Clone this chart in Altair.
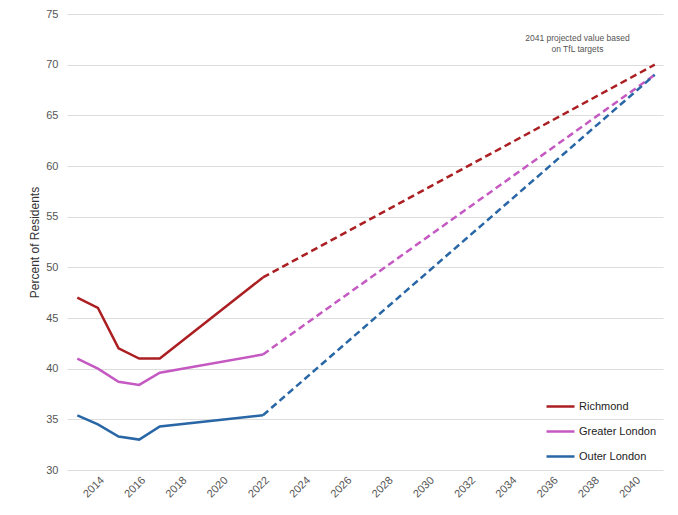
import altair as alt
import pandas as pd

series_names = ["Richmond", "Greater London", "Outer London"]
colors = ["#ab1f23", "#c559c2", "#2866a6"]

years_hist = [2013, 2014, 2015, 2016, 2017, 2022]
richmond_hist = [47, 46, 42, 41, 41, 49]
greater_hist = [41, 40, 38.7, 38.4, 39.6, 41.4]
outer_hist = [35.4, 34.5, 33.3, 33.0, 34.3, 35.4]

years_proj = [2022, 2041]
richmond_proj = [49, 70]
greater_proj = [41.4, 69]
outer_proj = [35.4, 69]

x_ticks = list(range(2014, 2041, 2))
y_ticks = [30, 35, 40, 45, 50, 55, 60, 65, 70, 75]

note_lines = ["2041 projected value based", "on TfL targets"]
note_year = 2037.25
note_value = 72.65

rows = []
for name, h, p in zip(series_names,
                      [richmond_hist, greater_hist, outer_hist],
                      [richmond_proj, greater_proj, outer_proj]):
    for yr, v in zip(years_hist, h):
        rows.append({"year": yr, "value": v, "series": name, "part": "hist"})
    for yr, v in zip(years_proj, p):
        rows.append({"year": yr, "value": v, "series": name, "part": "proj"})
df = pd.DataFrame(rows)

font = "Liberation Sans"

x_enc = alt.X("year:Q",
              scale=alt.Scale(domain=[2012.5, 2041.4], nice=False, zero=False),
              axis=alt.Axis(values=x_ticks, format="d", labelAngle=-45, labelAlign="right",
                            labelBaseline="top", labelPadding=4, labelFontSize=11,
                            labelColor="#555555", labelFont=font, grid=False, ticks=False,
                            domain=False, title=None))
y_enc = alt.Y("value:Q",
              scale=alt.Scale(domain=[30, 75], nice=False, zero=False),
              axis=alt.Axis(values=y_ticks, labelFontSize=11, labelColor="#555555",
                            labelFont=font, labelPadding=9, grid=True, gridColor="#dddddd",
                            gridWidth=1, ticks=False, domain=False,
                            title="Percent of Residents", titleFont=font, titleFontSize=12,
                            titleFontWeight="normal", titleColor="#333333", titlePadding=4))
color_enc = alt.Color("series:N",
                      scale=alt.Scale(domain=series_names, range=colors),
                      legend=alt.Legend(title=None, orient="none", legendX=478, legendY=377,
                                        symbolType="stroke", symbolSize=784,
                                        symbolStrokeWidth=2.5, labelFontSize=11,
                                        labelFont=font, labelColor="#222222",
                                        labelOffset=3, rowPadding=4))

hist = alt.Chart(df).transform_filter(alt.datum.part == "hist").mark_line(
    strokeWidth=2.5, strokeJoin="miter"
).encode(x=x_enc, y=y_enc, color=color_enc, detail="series:N")

proj = alt.Chart(df).transform_filter(alt.datum.part == "proj").mark_line(
    strokeWidth=2.5, strokeDash=[7, 4]
).encode(x=x_enc, y=y_enc, color=color_enc, detail="series:N")

note_df = pd.DataFrame({"year": [note_year], "value": [note_value],
                        "text": ["\n".join(note_lines)]})
note = alt.Chart(note_df).mark_text(
    fontSize=8.5, font=font, color="#555555", align="center", baseline="middle",
    lineBreak="\n", lineHeight=11
).encode(x="year:Q", y="value:Q", text="text:N")

chart = alt.layer(hist, proj, note).properties(
    width=596, height=456,
    autosize=alt.AutoSizeParams(type="none"),
    padding={"left": 59, "top": 6, "right": 7, "bottom": 37},
).configure_view(stroke=None)

chart.save("out.html", embed_options={"renderer": "svg", "actions": False})
